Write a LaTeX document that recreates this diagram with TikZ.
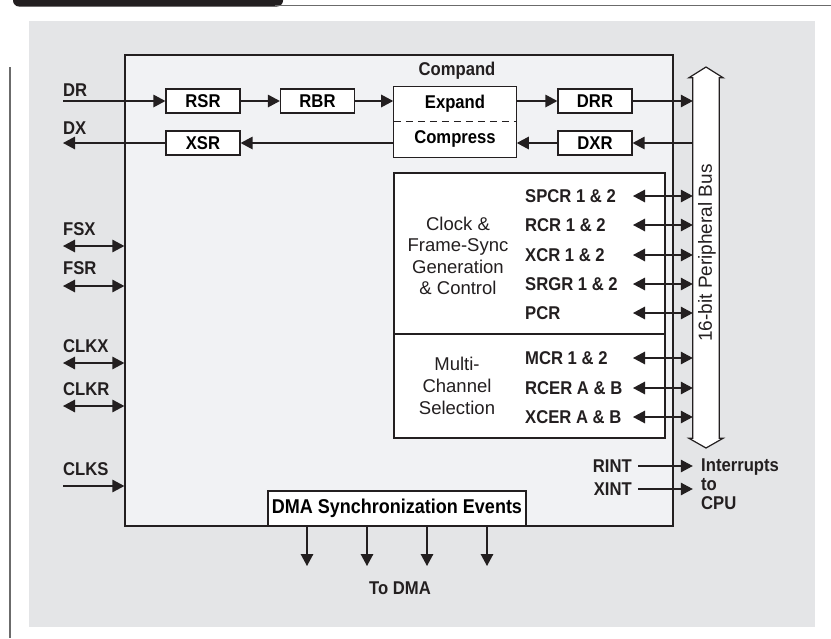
\documentclass[tikz,border=0pt]{standalone}
\usepackage{fontspec}
\setmainfont[FakeStretch=0.9]{Liberation Sans}
\newfontfamily\plainf{Liberation Sans}
\usetikzlibrary{arrows.meta,fit,calc}
\definecolor{bggray}{HTML}{E4E5E7}
\definecolor{boxgray}{HTML}{F1F2F4}
\definecolor{linegray}{HTML}{6B6B6B}
\definecolor{inkc}{HTML}{231F20}
\tikzset{
  lblfont/.style={font=\bfseries\fontsize{18.5}{19}\selectfont},
  lbl/.style={lblfont, inner sep=0pt, text height=13.3pt, text depth=0pt, text=inkc},
  reg/.style={lblfont, draw=inkc, fill=white, line width=1.2pt, minimum width=74pt,
    minimum height=24pt, inner sep=0pt, text height=13.3pt, text depth=0pt},
  arr/.style={draw=inkc, line width=1.4pt, -{Triangle[length=12pt,width=12.5pt]}},
  darr/.style={draw=inkc, line width=1.4pt, {Triangle[length=12pt,width=12.5pt]}-{Triangle[length=12pt,width=12.5pt]}},
  midtext/.style={font=\plainf\fontsize{18.5}{21.5}\selectfont, align=center, inner sep=0pt, text=inkc},
}
\begin{document}
\begin{tikzpicture}[x=1pt,y=-1pt]
\useasboundingbox (0,0) rectangle (831,638);
% header
\fill[inkc, rounded corners=6pt] (13,-10) rectangle (283,6.5);
\draw[linegray, line width=1pt] (275,5) -- (831,5);
% background
\fill[bggray] (29,21) rectangle (815,627);
\draw[linegray, line width=2pt] (10,67) -- (10,638);
% main box
\node[draw=inkc, fill=boxgray, line width=1.3pt, minimum width=548pt, minimum height=471pt, inner sep=0pt] (main) at (399,290.5) {};
% bus
\node[minimum width=26pt, minimum height=360pt, inner sep=0pt] (bus) at (706,258) {};
\draw[draw=inkc, fill=white, line width=1.2pt, line join=miter]
  (bus.north west) -- ++(-4,0) -- (706,67) -- ($(bus.north east)+(4,0)$) -- (bus.north east)
  -- (bus.south east) -- ++(4,0) -- (706,448) -- ($(bus.south west)+(-4,0)$) -- (bus.south west) -- cycle;
\node[rotate=90, font=\plainf\fontsize{19}{21}\selectfont, inner sep=0pt, text=inkc] (buslbl) at (707,253) {16-bit Peripheral Bus};
% data path
\node[lbl, anchor=west] (dr) at (63,90) {DR};
\node[lbl, anchor=west] (dx) at (63,128) {DX};
\node[reg] (rsr) at (203,101) {RSR};
\node[reg] (rbr) at (317.5,101) {RBR};
\node[reg] (xsr) at (203,143) {XSR};
\node[reg] (drr) at (595,101) {DRR};
\node[reg] (dxr) at (595,143) {DXR};
\node[lblfont, fill=white, minimum width=122pt, minimum height=34pt, inner sep=0pt] (expand) at (455,104) {Expand};
\node[lblfont, fill=white, minimum width=122pt, minimum height=36pt, inner sep=0pt] (compress) at (455,139) {Compress};
\node[draw=inkc, line width=1.2pt, fit=(expand)(compress), inner sep=0pt] (compand) {};
\draw[draw=inkc, line width=1pt, dash pattern=on 7pt off 5pt] (expand.south west) -- (expand.south east);
\node[lbl] (compandlbl) at (457,69) {Compand};
\draw[arr] (dr.west |- rsr.west) -- (rsr.west);
\draw[arr] (rsr.east) -- (rbr.west);
\draw[arr] (rbr.east) -- (rbr.east -| compand.west);
\draw[arr] (expand.east |- drr.west) -- (drr.west);
\draw[arr] (drr.east) -- (drr.east -| bus.west);
\draw[arr] (dxr.east -| bus.west) -- (dxr.east);
\draw[arr] (dxr.west) -- (dxr.west -| compand.east);
\draw[arr] (xsr.east -| compand.west) -- (xsr.east);
\draw[arr] (xsr.west) -- (xsr.west -| dx.west);
% control blocks
\node[draw=inkc, fill=white, line width=1.2pt, minimum width=271pt, minimum height=161pt, inner sep=0pt] (clk) at (529.5,253.5) {};
\node[draw=inkc, fill=white, line width=1.2pt, minimum width=271pt, minimum height=104pt, inner sep=0pt] (mcs) at (529.5,386) {};
\node[midtext] (clktxt) at (458,256) {Clock \&\\Frame-Sync\\Generation\\\& Control};
\node[midtext, font=\plainf\fontsize{18.5}{22.3}\selectfont] (mcstxt) at (457,386) {Multi-\\Channel\\Selection};
\coordinate (regx) at (633,0);
\node[lbl, anchor=west] (spcr) at (525,196) {SPCR 1 \& 2};
\node[lbl, anchor=west] (rcr) at (525,225) {RCR 1 \& 2};
\node[lbl, anchor=west] (xcr) at (525,255) {XCR 1 \& 2};
\node[lbl, anchor=west] (srgr) at (525,284) {SRGR 1 \& 2};
\node[lbl, anchor=west] (pcr) at (525,313) {PCR};
\node[lbl, anchor=west] (mcr) at (525,358) {MCR 1 \& 2};
\node[lbl, anchor=west] (rcer) at (525,388) {RCER A \& B};
\node[lbl, anchor=west] (xcer) at (525,417) {XCER A \& B};
\foreach \r in {spcr,rcr,xcr,srgr,pcr,mcr,rcer,xcer}
  \draw[darr] (regx |- \r.west) -- (bus.west |- \r.west);
% pins on the left
\node[lbl, anchor=west] (fsx) at (63,229) {FSX};
\node[lbl, anchor=west] (fsr) at (63,268) {FSR};
\node[lbl, anchor=west] (clkx) at (63,346) {CLKX};
\node[lbl, anchor=west] (clkr) at (63,389) {CLKR};
\node[lbl, anchor=west] (clks) at (63,469) {CLKS};
\coordinate (fsxa) at (63,246);
\coordinate (fsra) at (63,286);
\coordinate (clkxa) at (63,363);
\coordinate (clkra) at (63,406);
\coordinate (clksa) at (63,486);
\draw[darr] (fsxa) -- (fsxa -| main.west);
\draw[darr] (fsra) -- (fsra -| main.west);
\draw[darr] (clkxa) -- (clkxa -| main.west);
\draw[darr] (clkra) -- (clkra -| main.west);
\draw[arr] (clksa) -- (clksa -| main.west);
% interrupts
\node[lbl, anchor=east] (rint) at (632,466) {RINT};
\node[lbl, anchor=east] (xint) at (632,489) {XINT};
\draw[arr] ([xshift=6pt]rint.east) -- (bus.west |- rint.east);
\draw[arr] ([xshift=6pt]xint.east) -- (bus.west |- xint.east);
\node[font=\bfseries\fontsize{18.5}{19}\selectfont, anchor=west, align=left, inner sep=0pt, text=inkc] (cpu) at (701,484) {Interrupts\\to\\CPU};
% DMA
\node[font=\bfseries\fontsize{20}{21}\selectfont, draw=inkc, fill=white, line width=1.2pt, minimum width=258pt, minimum height=35pt, inner sep=0pt] (dma) at (397,508.5) {DMA Synchronization Events};
\coordinate (d1) at (307,566);
\coordinate (d2) at (367,566);
\coordinate (d3) at (427,566);
\coordinate (d4) at (487,566);
\foreach \d in {d1,d2,d3,d4}
  \draw[arr] (\d |- dma.south) -- (\d);
\node[lbl] (todma) at (400,588) {To DMA};
\end{tikzpicture}
\end{document}
